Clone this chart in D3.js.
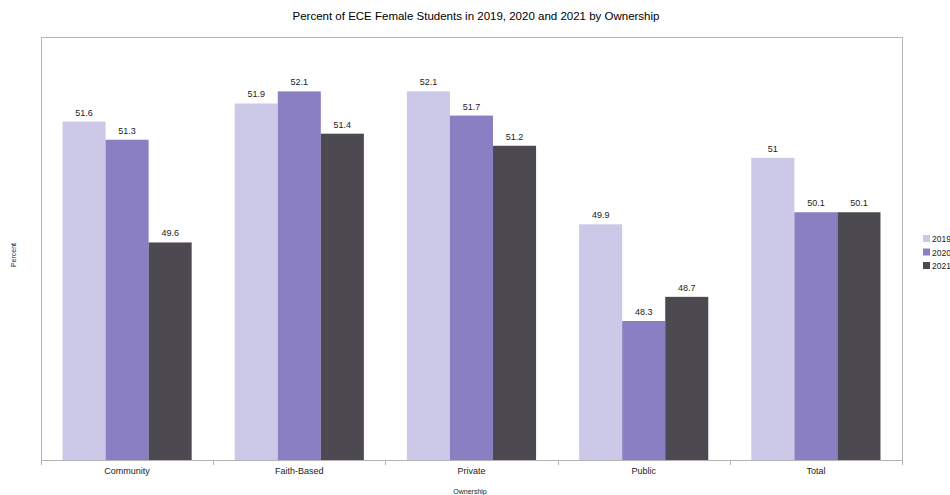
<!DOCTYPE html>
<html><head><meta charset="utf-8">
<script src="https://cdn.jsdelivr.net/npm/d3@7"></script>
<style>body{margin:0;background:#fff;}svg{display:block;font-family:"Liberation Sans",Arial,sans-serif;}</style>
</head><body>
<script>
const categories = ["Community","Faith-Based","Private","Public","Total"];
const seriesNames = ["2019","2020","2021"];
const v2019 = [51.6, 51.9, 52.1, 49.9, 51];
const v2020 = [51.3, 52.1, 51.7, 48.3, 50.1];
const v2021 = [49.6, 51.4, 51.2, 48.7, 50.1];
const colors = ["#ccc8e8","#8b7fc3","#4c4a50"];
const series = [v2019, v2020, v2021];

const W = 950, H = 495;
const m = {l:41, r:48, t:37, b:35};
const svg = d3.select("body").append("svg").attr("width",W).attr("height",H);

svg.append("text").attr("x",476).attr("y",20).attr("text-anchor","middle")
  .attr("font-size",11.5).attr("fill","#000")
  .text("Percent of ECE Female Students in 2019, 2020 and 2021 by Ownership");

const x = d3.scaleBand().domain(categories).range([m.l, W-m.r]).paddingInner(0).paddingOuter(0);
const x1 = d3.scaleBand().domain(seriesNames).range([0, x.bandwidth()]).paddingInner(0).paddingOuter(0.5);
const y = d3.scaleLinear().domain([46,53]).range([H-m.b, m.t]);

svg.append("rect").attr("x",m.l+0.5).attr("y",m.t+0.5).attr("width",W-m.r-m.l).attr("height",H-m.b-m.t)
  .attr("fill","none").attr("stroke","#b3b3b3").attr("stroke-width",1);

categories.forEach((c,i)=>{
  series.forEach((s,j)=>{
    const bx = x(c)+x1(seriesNames[j]);
    svg.append("rect").attr("x",bx).attr("y",y(s[i])).attr("width",x1.bandwidth())
      .attr("height",y(46)-y(s[i])).attr("fill",colors[j]);
    svg.append("text").attr("x",bx+x1.bandwidth()/2).attr("y",y(s[i])-6)
      .attr("text-anchor","middle").attr("font-size",9).attr("fill","#222").text(s[i]);
  });
});

const ax = svg.append("g");
const bounds = categories.map(c=>x(c)).concat([W-m.r]);
bounds.forEach(b=>{
  ax.append("line").attr("x1",Math.round(b)+0.5).attr("x2",Math.round(b)+0.5).attr("y1",H-m.b).attr("y2",H-m.b+5)
    .attr("stroke","#b3b3b3");
});
ax.append("line").attr("x1",m.l).attr("x2",W-m.r).attr("y1",H-m.b+0.5).attr("y2",H-m.b+0.5).attr("stroke","#b3b3b3");
categories.forEach(c=>{
  ax.append("text").attr("x",x(c)+x.bandwidth()/2).attr("y",H-m.b+14).attr("text-anchor","middle")
    .attr("font-size",9).attr("fill","#222").text(c);
});

svg.append("text").attr("x",470).attr("y",494).attr("text-anchor","middle").attr("font-size",7).attr("fill","#222").text("Ownership");
svg.append("text").attr("transform","translate(16,255) rotate(-90)").attr("text-anchor","middle")
  .attr("font-size",7).attr("fill","#222").text("Percent");

const lg = svg.append("g");
seriesNames.forEach((s,j)=>{
  lg.append("rect").attr("x",923).attr("y",235+j*13.5).attr("width",7).attr("height",7).attr("fill",colors[j]);
  lg.append("text").attr("x",932).attr("y",242+j*13.5).attr("font-size",8.5).attr("fill","#222").text(s);
});
</script>
</body></html>
